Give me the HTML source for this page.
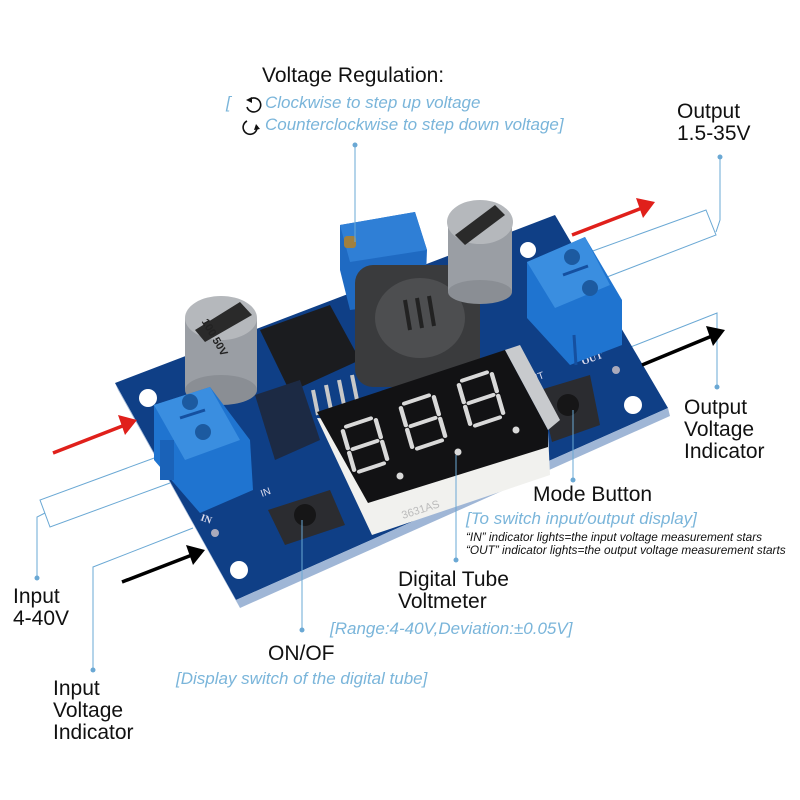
<!DOCTYPE html>
<html><head><meta charset="utf-8"><style>
html,body{margin:0;padding:0;background:#fff;}
svg{display:block;}
.lb{font-family:"Liberation Sans",sans-serif;font-size:21px;fill:#111;}
.bl{font-family:"Liberation Sans",sans-serif;font-size:17px;font-style:italic;fill:#7ab5da;}
.sm{font-family:"Liberation Sans",sans-serif;font-size:11.8px;font-style:italic;fill:#111;}
.ld{stroke:#6aa8d4;stroke-width:1;fill:none;}
</style></head><body>
<svg width="800" height="800" viewBox="0 0 800 800" xmlns="http://www.w3.org/2000/svg">
<!-- bands / leader lines behind board -->
<polyline class="ld" points="590,252 706,210 716,235 607,277"/>
<polyline class="ld" points="716,232 720,220 720,157"/><circle cx="720" cy="157" r="2.5" fill="#6aa8d4"/>
<polyline class="ld" points="623,350 717,313 717,387"/><circle cx="717" cy="387" r="2.5" fill="#6aa8d4"/>
<polyline class="ld" points="157,457 40,500 50,527 170,483"/>
<polyline class="ld" points="45,513 37,517 37,578"/><circle cx="37" cy="578" r="2.5" fill="#6aa8d4"/>
<polyline class="ld" points="193,528 93,567 93,670"/><circle cx="93" cy="670" r="2.5" fill="#6aa8d4"/>

<!-- board -->
<polygon points="115,383 555,215 668,408 236,600" fill="#0f3f86"/>
<polygon points="236,600 668,408 670,416 240,608" fill="#9fb6d6"/>
<polygon points="115,383 236,600 240,608 118,390" fill="#9fb6d6"/>
<circle cx="148" cy="398" r="9" fill="#fff"/>
<circle cx="239" cy="570" r="9" fill="#fff"/>
<circle cx="633" cy="405" r="9" fill="#fff"/>
<circle cx="528" cy="250" r="8" fill="#fff"/>
<circle cx="215" cy="533" r="4" fill="#aab"/>
<circle cx="616" cy="370" r="4" fill="#aab"/>
<text x="200" y="520" font-family="Liberation Serif" font-size="10" font-weight="bold" fill="#dde" transform="rotate(20 200 520)">IN</text>
<text x="583" y="365" font-family="Liberation Serif" font-size="10" font-weight="bold" fill="#dde" transform="rotate(-20 583 365)">OUT</text>
<text x="525" y="385" font-family="Liberation Sans" font-size="10" fill="#dde" transform="rotate(-20 525 385)">OUT</text>
<text x="262" y="497" font-family="Liberation Sans" font-size="10" fill="#dde" transform="rotate(-20 262 497)">IN</text>

<!-- IC regulator -->
<polygon points="260,330 330,305 360,360 290,392" fill="#1b1c1f"/>
<g stroke="#c8c8c8" stroke-width="4">
<line x1="300" y1="395" x2="305" y2="420"/><line x1="313" y1="390" x2="318" y2="415"/><line x1="326" y1="385" x2="331" y2="410"/><line x1="339" y1="380" x2="344" y2="405"/><line x1="352" y1="375" x2="357" y2="400"/>
</g>
<polygon points="255,395 300,380 320,440 275,460" fill="#1c2a44"/>

<!-- left cap -->
<rect x="185" y="318" width="72" height="72" fill="#9a9ea4"/>
<ellipse cx="221" cy="390" rx="36" ry="15" fill="#8a8e94"/>
<ellipse cx="221" cy="318" rx="36" ry="22" fill="#b5b8bc"/>
<path d="M195,330 L240,302 L252,315 L205,342 Z" fill="#2a2a2a"/>
<text x="205" y="335" font-family="Liberation Sans" font-size="11" font-weight="bold" fill="#222" transform="rotate(60 215 325)">100 50V</text>

<!-- pot -->
<polygon points="340,225 415,212 427,250 425,300 350,310 340,270" fill="#1f6ac2"/>
<polygon points="340,225 415,212 427,250 350,262" fill="#2f7fd6"/>
<rect x="344" y="236" width="12" height="12" rx="3" fill="#a08040"/>

<!-- inductor -->
<rect x="355" y="265" width="125" height="122" rx="18" fill="#3a3b3d"/>
<ellipse cx="420" cy="318" rx="45" ry="40" fill="#4d4e50"/>
<g stroke="#222" stroke-width="4"><line x1="405" y1="300" x2="410" y2="330"/><line x1="417" y1="298" x2="422" y2="328"/><line x1="429" y1="296" x2="434" y2="326"/></g>

<!-- right cap -->
<rect x="448" y="222" width="64" height="70" fill="#9a9ea4"/>
<ellipse cx="480" cy="292" rx="32" ry="12" fill="#8a8e94"/>
<ellipse cx="480" cy="222" rx="33" ry="22" fill="#b5b8bc"/>
<path d="M455,235 L495,205 L505,215 L465,245 Z" fill="#2a2a2a"/>

<!-- right terminal -->
<polygon points="527,262 585,237 622,300 622,345 570,365 527,318" fill="#1f74d0"/>
<polygon points="527,262 585,237 610,285 555,308" fill="#3a8ee0"/>
<circle cx="572" cy="257" r="8" fill="#1c5aa0"/><circle cx="590" cy="288" r="8" fill="#1c5aa0"/>
<line x1="563" y1="275" x2="588" y2="266" stroke="#1550a0" stroke-width="3"/>
<line x1="574" y1="335" x2="576" y2="365" stroke="#1550a0" stroke-width="3"/>

<!-- left terminal -->
<polygon points="154,405 210,387 250,440 253,490 200,513 154,460" fill="#1f74d0"/>
<polygon points="154,405 210,387 240,440 185,460" fill="#3a8ee0"/>
<circle cx="190" cy="402" r="8" fill="#1c5aa0"/><circle cx="203" cy="432" r="8" fill="#1c5aa0"/>
<line x1="180" y1="418" x2="205" y2="410" stroke="#1550a0" stroke-width="3"/>
<rect x="160" y="440" width="14" height="40" fill="#1a62b8"/>

<!-- ON button -->
<polygon points="268,510 330,490 345,525 285,545" fill="#2b2c30"/>
<circle cx="305" cy="515" r="11" fill="#161617"/>
<!-- mode button -->
<polygon points="540,390 590,375 600,425 552,442" fill="#2b2c30"/>
<circle cx="568" cy="405" r="11" fill="#161617"/>

<!-- display -->
<polygon points="317,418 548,432 550,475 372,535" fill="#f1f1ee"/>
<polygon points="317,412 505,350 548,430 548,447 368,503" fill="#121214"/>
<polygon points="505,350 520,345 560,420 548,430" fill="#c8cacd"/>
<text x="400" y="510" font-family="Liberation Sans" font-size="11" fill="#bbb" transform="rotate(-18 430 505)">3631AS</text>
<g stroke="#d9d9d9" stroke-width="5" stroke-linecap="round" fill="none">
<g transform="matrix(0.825,-0.275,0.217,0.75,342,428)"><path d="M5,0H35M40,4V27M40,33V56M5,60H35M0,33V56M0,4V27M5,30H35"/></g>
<g transform="matrix(0.825,-0.275,0.217,0.75,400,405)"><path d="M5,0H35M40,4V27M40,33V56M5,60H35M0,33V56M0,4V27M5,30H35"/></g>
<g transform="matrix(0.825,-0.275,0.217,0.75,458,382)"><path d="M5,0H35M40,4V27M40,33V56M5,60H35M0,33V56M0,4V27M5,30H35"/></g>
</g>
<circle cx="400" cy="476" r="3.5" fill="#d9d9d9"/><circle cx="458" cy="452" r="3.5" fill="#d9d9d9"/><circle cx="516" cy="430" r="3.5" fill="#d9d9d9"/>

<!-- front leaders -->
<line class="ld" x1="355" y1="145" x2="355" y2="242"/><circle cx="355" cy="145" r="2.5" fill="#6aa8d4"/>
<line class="ld" x1="456" y1="455" x2="456" y2="560"/><circle cx="456" cy="560" r="2.5" fill="#6aa8d4"/>
<line class="ld" x1="302" y1="520" x2="302" y2="630"/><circle cx="302" cy="630" r="2.5" fill="#6aa8d4"/>
<line class="ld" x1="573" y1="410" x2="573" y2="480"/><circle cx="573" cy="480" r="2.5" fill="#6aa8d4"/>

<!-- arrows -->
<line x1="53" y1="453" x2="125" y2="425" stroke="#e0201b" stroke-width="3.5"/>
<polygon points="137,420 118,415 125,435" fill="#e0201b"/>
<line x1="572" y1="235" x2="642" y2="208" stroke="#e0201b" stroke-width="3.5"/>
<polygon points="655,202 636,198 643,218" fill="#e0201b"/>
<line x1="122" y1="582" x2="192" y2="555" stroke="#000" stroke-width="3.5"/>
<polygon points="205,550 186,545 193,565" fill="#000"/>
<line x1="642" y1="365" x2="712" y2="336" stroke="#000" stroke-width="3.5"/>
<polygon points="725,330 706,326 713,346" fill="#000"/>

<!-- texts -->
<text class="lb" x="262" y="82">Voltage Regulation:</text>
<text class="bl" x="226" y="108">[</text>
<g fill="none" stroke="#111" stroke-width="1.6"><path d="M250,99 A7,7 0 1 1 247,107"/><path d="M247,121 A7,7 0 1 0 257,126"/></g>
<polygon points="246,100 252,97 252,103" fill="#111"/><polygon points="256,124 260,129 254,130" fill="#111"/>
<text class="bl" x="265" y="108">Clockwise to step up voltage</text>
<text class="bl" x="265" y="130">Counterclockwise to step down voltage]</text>
<text class="lb" x="677" y="118">Output</text>
<text class="lb" x="677" y="140">1.5-35V</text>
<text class="lb" x="684" y="414">Output</text>
<text class="lb" x="684" y="436">Voltage</text>
<text class="lb" x="684" y="458">Indicator</text>
<text class="lb" x="533" y="501">Mode Button</text>
<text class="bl" x="466" y="524">[To switch input/output display]</text>
<text class="sm" x="466" y="541">“IN” indicator lights=the input voltage measurement stars</text>
<text class="sm" x="466" y="554">“OUT” indicator lights=the output voltage measurement starts</text>
<text class="lb" x="398" y="586">Digital Tube</text>
<text class="lb" x="398" y="608">Voltmeter</text>
<text class="bl" x="330" y="634">[Range:4-40V,Deviation:±0.05V]</text>
<text class="lb" x="268" y="660">ON/OF</text>
<text class="bl" x="176" y="684">[Display switch of the digital tube]</text>
<text class="lb" x="13" y="603">Input</text>
<text class="lb" x="13" y="625">4-40V</text>
<text class="lb" x="53" y="695">Input</text>
<text class="lb" x="53" y="717">Voltage</text>
<text class="lb" x="53" y="739">Indicator</text>
</svg>
</body></html>
